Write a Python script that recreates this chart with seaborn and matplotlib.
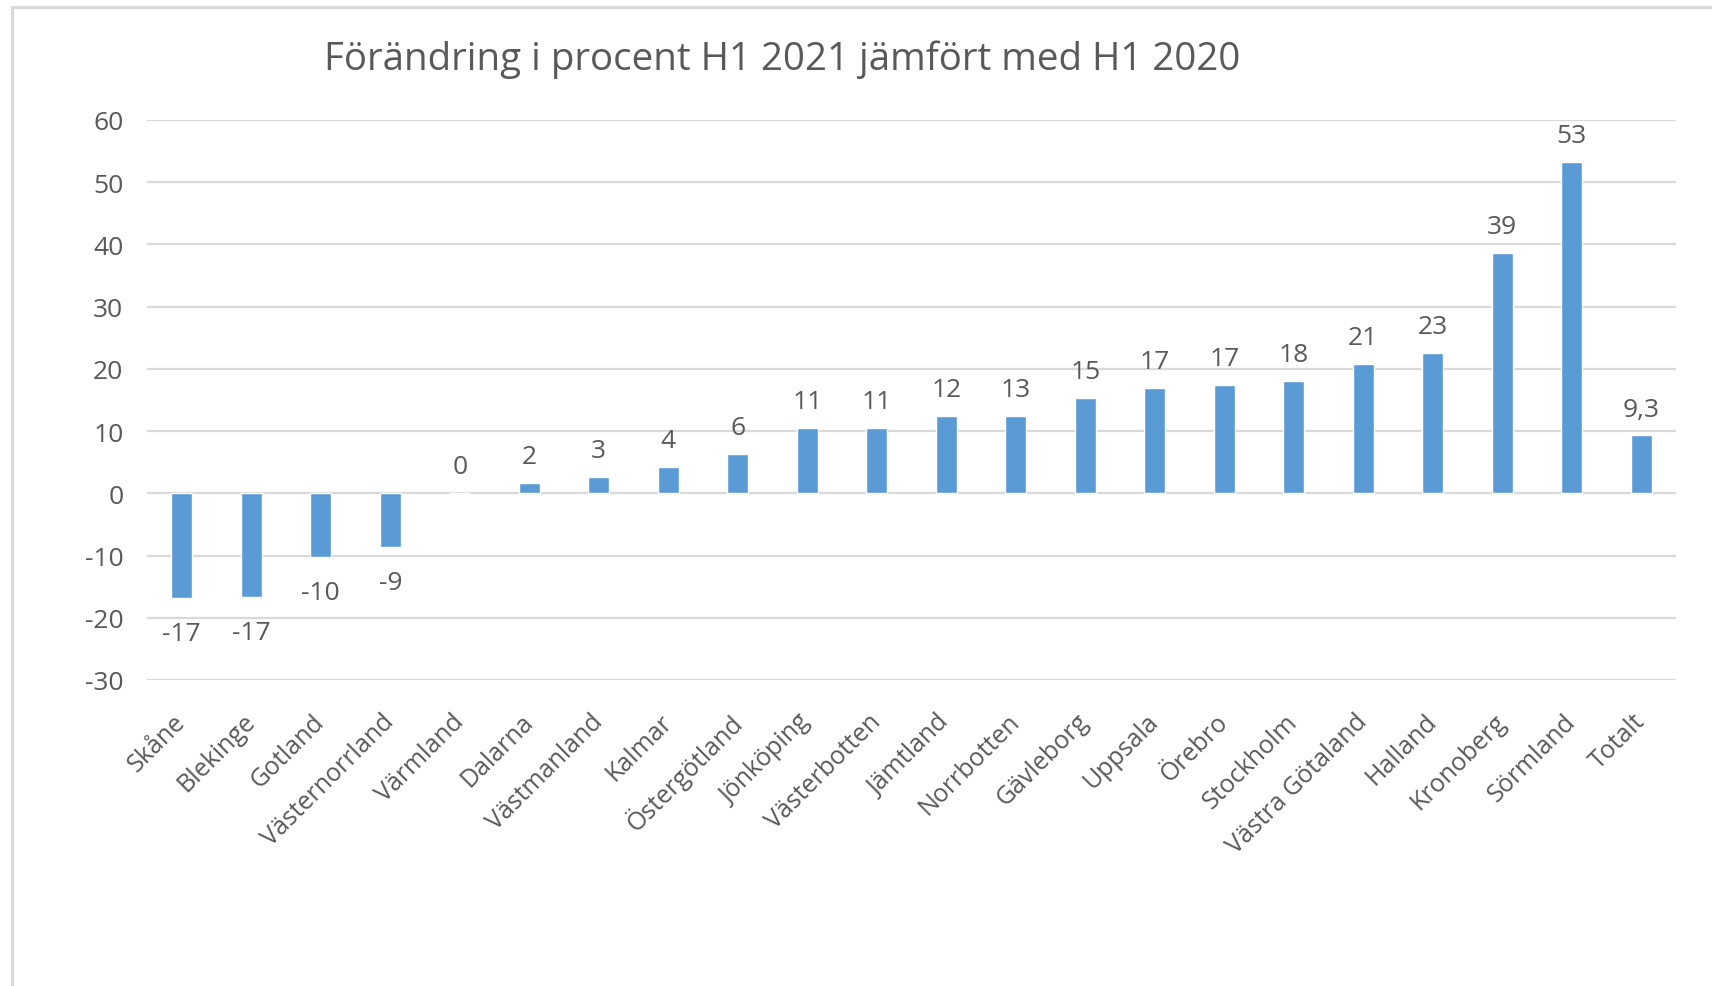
import matplotlib
matplotlib.use("Agg")
import matplotlib.pyplot as plt
from matplotlib.patches import Rectangle
import seaborn as sns
import pandas as pd

regions = ["Skåne", "Blekinge", "Gotland", "Västernorrland", "Värmland", "Dalarna",
           "Västmanland", "Kalmar", "Östergötland", "Jönköping", "Västerbotten",
           "Jämtland", "Norrbotten", "Gävleborg", "Uppsala", "Örebro", "Stockholm",
           "Västra Götaland", "Halland", "Kronoberg", "Sörmland", "Totalt"]
values = [-16.9, -16.6, -10.2, -8.6, 0.0, 1.6, 2.7, 4.3, 6.3, 10.5, 10.5,
          12.4, 12.5, 15.4, 16.9, 17.4, 18.1, 20.8, 22.5, 38.6, 53.2, 9.3]
value_labels = ["-17", "-17", "-10", "-9", "0", "2", "3", "4", "6", "11", "11",
                "12", "13", "15", "17", "17", "18", "21", "23", "39", "53", "9,3"]
y_ticks = [-30, -20, -10, 0, 10, 20, 30, 40, 50, 60]
title = "Förändring i procent H1 2021 jämfört med H1 2020"

BAR = "#5B9BD5"
TXT = "#595959"
GRID = "#D9D9D9"

sns.set_theme(style="white")
plt.rcParams["font.family"] = ["Open Sans", "DejaVu Sans"]
plt.rcParams["axes.unicode_minus"] = False

W, H = 1712, 987
fig = plt.figure(figsize=(W / 100, H / 100), dpi=100)
ax = fig.add_axes([147 / W, 1 - 681 / H, (1676 - 147) / W, (681 - 121) / H])

df = pd.DataFrame({"region": regions, "value": values})
sns.barplot(data=df, x="region", y="value", color=BAR, saturation=1, width=0.3,
            errorbar=None, ax=ax, zorder=3)

ax.set_ylim(-30, 60)
ax.set_xlim(-0.5, len(regions) - 0.5)
ax.set_yticks(y_ticks)
ax.set_yticklabels([str(t) for t in y_ticks])
for t in y_ticks:
    ax.axhline(t, color=GRID, lw=1.6, zorder=1)
for s in ax.spines.values():
    s.set_visible(False)
ax.grid(False)
ax.set_xlabel("")
ax.set_ylabel("")
ax.tick_params(axis="y", length=0, pad=17, labelsize=19, labelcolor=TXT)
ax.tick_params(axis="x", length=0, pad=27, labelsize=18, labelcolor=TXT)
for lab in ax.get_xticklabels():
    lab.set_rotation(45)
    lab.set_ha("right")
    lab.set_va("center")
    lab.set_rotation_mode("anchor")

for patch, v, lbl in zip(ax.containers[0], values, value_labels):
    xc = patch.get_x() + patch.get_width() / 2
    if v >= 0:
        ax.annotate(lbl, (xc, v), xytext=(0, 10), textcoords="offset points",
                    ha="center", va="bottom", fontsize=19, color=TXT)
    else:
        ax.annotate(lbl, (xc, v), xytext=(0, -16.5), textcoords="offset points",
                    ha="center", va="top", fontsize=19, color=TXT)

fig.text(782 / W, 1 - 60 / H, title, ha="center", va="center", fontsize=27.7, color=TXT)

fig.add_artist(Rectangle((12 / W, -0.5), 2, 1.5 - 8 / H, transform=fig.transFigure,
                         fill=False, edgecolor=GRID, lw=2.2))

fig.savefig("out.png", dpi=100, facecolor="white")
